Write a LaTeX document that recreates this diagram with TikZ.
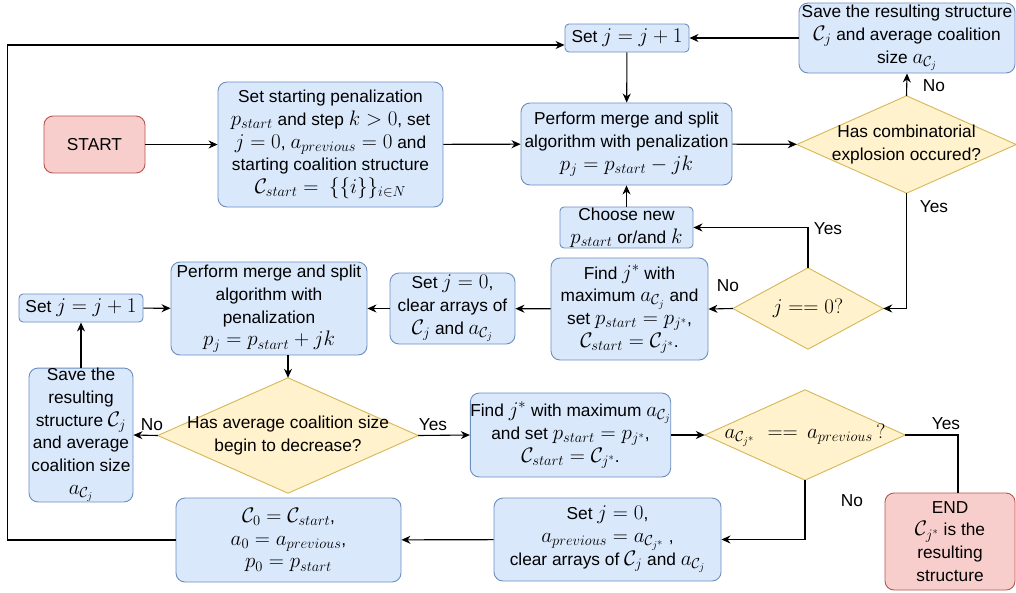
\RequirePackage{fix-cm}
\documentclass[tikz,border=0pt]{standalone}
\usepackage[no-math]{fontspec}
\setmainfont{Liberation Sans}
\DeclareMathSizes{17.3}{21}{14.5}{10.5}
\usetikzlibrary{arrows.meta,backgrounds}
\definecolor{bfill}{HTML}{DAE8FC}
\definecolor{bline}{HTML}{6C8EBF}
\definecolor{rfill}{HTML}{F8CECC}
\definecolor{rline}{HTML}{B85450}
\definecolor{yfill}{HTML}{FFF2CC}
\definecolor{yline}{HTML}{D6B656}
\tikzset{
  box/.style={draw=bline, fill=bfill, line width=0.9pt, rounded corners=9pt, align=center, inner sep=0pt,
    font=\fontsize{17.3}{22.8}\selectfont},
  smallbox/.style={box, rounded corners=4pt},
  term/.style={box, draw=rline, fill=rfill},
  dectext/.style={align=center, inner sep=0pt, font=\fontsize{17.3}{22.8}\selectfont},
  decshape/.style={draw=yline, fill=yfill, line width=0.9pt},
  lbl/.style={font=\fontsize{17.3}{20}\selectfont, inner sep=0pt},
  conn/.style={line width=1.1pt, -{Stealth[length=9pt,width=8pt]}},
  plain/.style={line width=1.1pt}
}
\newcommand{\Cc}{\mathcal{C}}
\begin{document}
\begin{tikzpicture}[x=1pt,y=-1pt]
\useasboundingbox (0,0) rectangle (1016,592);
% nodes
\node[term, minimum width=101pt, minimum height=57pt] (start) at (94.5,144.5) {START};
\node[box, minimum width=225pt, minimum height=125pt] (init) at (330.5,144.5)
  {Set starting penalization\\ $p_{start}$ and step $k>0$, set\\ $j=0$, $a_{previous}=0$ and\\ starting coalition structure\\ $\Cc_{start} =\ \{\{i\}\}_{i\in N}$};
\node[smallbox, minimum width=124pt, minimum height=28pt] (setj1) at (627,38) {Set $j=j+1$};
\node[box, minimum width=211pt, minimum height=82pt] (perf1) at (626.5,144)
  {Perform merge and split\\ algorithm with penalization\\ $p_j = p_{start} - jk$};
\node[dectext, minimum width=219pt, minimum height=97pt] (d1) at (906.5,144.5) {Has combinatorial\\ explosion occured?};
\node[box, minimum width=216pt, minimum height=70pt] (save1) at (907,38)
  {Save the resulting structure\\ $\Cc_j$ and average coalition\\ size $a_{\Cc_j}$};
\node[smallbox, minimum width=133pt, minimum height=41pt] (choose) at (626.5,227.5)
  {Choose new\\ $p_{start}$ or/and $k$};
\node[dectext, minimum width=150pt, minimum height=81pt] (d2) at (808,308.5) {$j == 0?$};
\node[box, minimum width=157pt, minimum height=102pt] (find1) at (629.5,309)
  {Find $j^*$ with\\ maximum $a_{\Cc_j}$ and\\ set $p_{start} = p_{j^*}$,\\ $\Cc_{start} = \Cc_{j^*}$.};
\node[box, minimum width=125pt, minimum height=71pt] (clr1) at (452.5,308.5)
  {Set $j=0$,\\ clear arrays of\\ $\Cc_j$ and $a_{\Cc_j}$};
\node[box, minimum width=196pt, minimum height=93pt] (perf2) at (269,308.5)
  {Perform merge and split\\ algorithm with\\ penalization\\ $p_j = p_{start} + jk$};
\node[smallbox, minimum width=124pt, minimum height=28pt] (setj2) at (81,308) {Set $j=j+1$};
\node[box, minimum width=104pt, minimum height=132pt] (save2) at (81,435)
  {Save the\\ resulting\\ structure $\Cc_j$\\ and average\\ coalition size\\ $a_{\Cc_j}$};
\node[dectext, minimum width=260pt, minimum height=115pt] (d3) at (288,435.5) {Has average coalition size\\ begin to decrease?};
\node[box, minimum width=199pt, minimum height=84pt] (find2) at (570.5,435)
  {Find $j^*$ with maximum $a_{\Cc_j}$\\ and set $p_{start} = p_{j^*}$,\\ $\Cc_{start} = \Cc_{j^*}$.};
\node[dectext, minimum width=200pt, minimum height=90pt] (d4) at (805,435) {$a_{\Cc_{j^*}}\,\, == \,a_{previous}\,?$};
\node[term, minimum width=130pt, minimum height=97pt] (end) at (950,541.5)
  {END\\ $\Cc_{j^*}$ is the\\ resulting\\ structure};
\node[box, minimum width=227pt, minimum height=83pt] (clr2) at (607.5,539.5)
  {Set $j=0$,\\ $a_{previous} = a_{\Cc_{j^*}}$ ,\\ clear arrays of $\Cc_j$ and $a_{\Cc_j}$};
\node[box, minimum width=225pt, minimum height=84pt] (c0) at (288.5,540)
  {$\Cc_0 = \Cc_{start}$,\\ $a_0 = a_{previous}$,\\ $p_0 = p_{start}$};
\begin{scope}[on background layer]
\foreach \n in {d1,d2,d3,d4}
  \draw[decshape] (\n.north) -- (\n.east) -- (\n.south) -- (\n.west) -- cycle;
\end{scope}
% connectors
\coordinate (loopy) at (0,45);
\draw[conn] (start) -- (init);
\draw[conn] (init) -- (perf1);
\draw[conn] (setj1) -- (perf1);
\draw[conn] (perf1) -- (d1);
\draw[conn] (d1.north) -- (save1.south);
\draw[conn] (save1) -- (setj1);
\draw[conn] (d1.south) |- (d2.east);
\draw[conn] (d2.north) |- (choose.east);
\draw[conn] (choose) -- (perf1);
\draw[conn] (d2.west) -- (find1.east);
\draw[conn] (find1) -- (clr1);
\draw[conn] (clr1) -- (perf2);
\draw[conn] (setj2) -- (perf2);
\draw[conn] (d3.north |- perf2.south) -- (d3.north);
\draw[conn] (d3.west) -- (save2.east);
\draw[conn] (save2) -- (setj2);
\draw[conn] (d3.east) -- (find2.west);
\draw[conn] (find2) -- (d4.west);
\draw[plain] (d4.east) -| ([xshift=8pt]end.north);
\draw[conn] (d4.south) |- (clr2.east);
\draw[conn] (clr2) -- (c0);
\draw[conn] (c0.west) -- ++(-168,0) |- (setj1.west |- loopy);
% labels
\node[lbl] (l1) at (934,86) {No};
\node[lbl] (l2) at (934,207) {Yes};
\node[lbl] (l3) at (828,229) {Yes};
\node[lbl] (l4) at (728,286) {No};
\node[lbl] (l5) at (152,425) {No};
\node[lbl] (l6) at (433,425) {Yes};
\node[lbl] (l7) at (946,424) {Yes};
\node[lbl] (l8) at (852,501) {No};
\end{tikzpicture}
\end{document}
